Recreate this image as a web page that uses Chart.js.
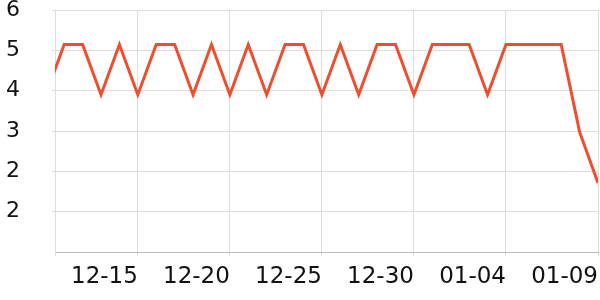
<!DOCTYPE html>
<html>
<head>
<meta charset="utf-8">
<script src="https://cdn.jsdelivr.net/npm/chart.js@4.4.0/dist/chart.umd.min.js"></script>
<style>
  html, body { margin: 0; padding: 0; background: #fff; }
  #wrap { width: 600px; height: 300px; }
</style>
</head>
<body>
<div id="wrap"><canvas id="chartLine"></canvas></div>
<script>
/*************** DATA ***************/
// one entry per day, 12-10 .. 01-09
const dates = ['12-10', '12-11', '12-12', '12-13', '12-14', '12-15', '12-16', '12-17',
               '12-18', '12-19', '12-20', '12-21', '12-22', '12-23', '12-24', '12-25',
               '12-26', '12-27', '12-28', '12-29', '12-30', '12-31', '01-01', '01-02',
               '01-03', '01-04', '01-05', '01-06', '01-07', '01-08', '01-09'];
const values = [4.11, 5.23, 5.23, 4.11, 5.23, 4.11, 5.23, 5.23,
                4.11, 5.23, 4.11, 5.23, 4.11, 5.23, 5.23, 4.11,
                5.23, 4.11, 5.23, 5.23, 4.11, 5.23, 5.23, 5.23,
                4.11, 5.23, 5.23, 5.23, 5.23, 3.28, 2.14];
const xTickDays = [0.5, 5, 10, 15, 20, 25, 30];
const yTickValues = [1.5, 2.4, 3.3, 4.2, 5.1, 6.0];

const lineColor = '#ef4e2e';
const gridColor = '#dddddd';
const fontFamily = '"DejaVu Sans", sans-serif';

/*************** DRAW LINE CHART ***************/
function drawLine() {
    var points = values.map(function (v, i) { return { x: i, y: v }; });

    var canvas = document.getElementById('chartLine').getContext('2d');
    new Chart(canvas, {
        type: 'line',
        data: {
            datasets: [{
                data: points,
                borderColor: lineColor,
                borderWidth: 3,
                pointRadius: 0,
                tension: 0,
                fill: false,
                clip: 0
            }]
        },
        options: {
            responsive: true,
            maintainAspectRatio: false,
            animation: false,
            layout: { padding: { left: 0, right: 2, top: 0, bottom: 0 } },
            plugins: {
                legend: { display: false },
                tooltip: { enabled: false }
            },
            scales: {
                x: {
                    type: 'linear',
                    min: 0.5,
                    max: dates.length - 1,
                    afterBuildTicks: function (scale) {
                        scale.ticks = xTickDays.map(function (v) { return { value: v }; });
                    },
                    afterFit: function (scale) {
                        scale.height = 48;
                        scale.paddingLeft = 0;
                        scale.paddingRight = 0;
                    },
                    ticks: {
                        align: 'end',
                        maxRotation: 0,
                        autoSkip: false,
                        padding: 7,
                        color: '#111',
                        font: { family: fontFamily, size: 23 },
                        callback: function (v) {
                            return Number.isInteger(v) ? dates[v] : '';
                        }
                    },
                    grid: { color: gridColor, tickLength: 4 },
                    border: { color: '#bbbbbb' }
                },
                y: {
                    min: 0.6,
                    max: 6.0,
                    afterBuildTicks: function (scale) {
                        scale.ticks = yTickValues.map(function (v) { return { value: v }; });
                    },
                    afterFit: function (scale) {
                        scale.width = 55;
                        scale.paddingTop = 10;
                        scale.paddingBottom = 0;
                    },
                    ticks: {
                        padding: 32,
                        color: '#111',
                        font: { family: fontFamily, size: 22 },
                        callback: function (v) { return Math.round(v).toString(); }
                    },
                    grid: { color: gridColor, tickLength: 3 },
                    border: { color: gridColor }
                }
            }
        }
    });
}

drawLine();
</script>
</body>
</html>
